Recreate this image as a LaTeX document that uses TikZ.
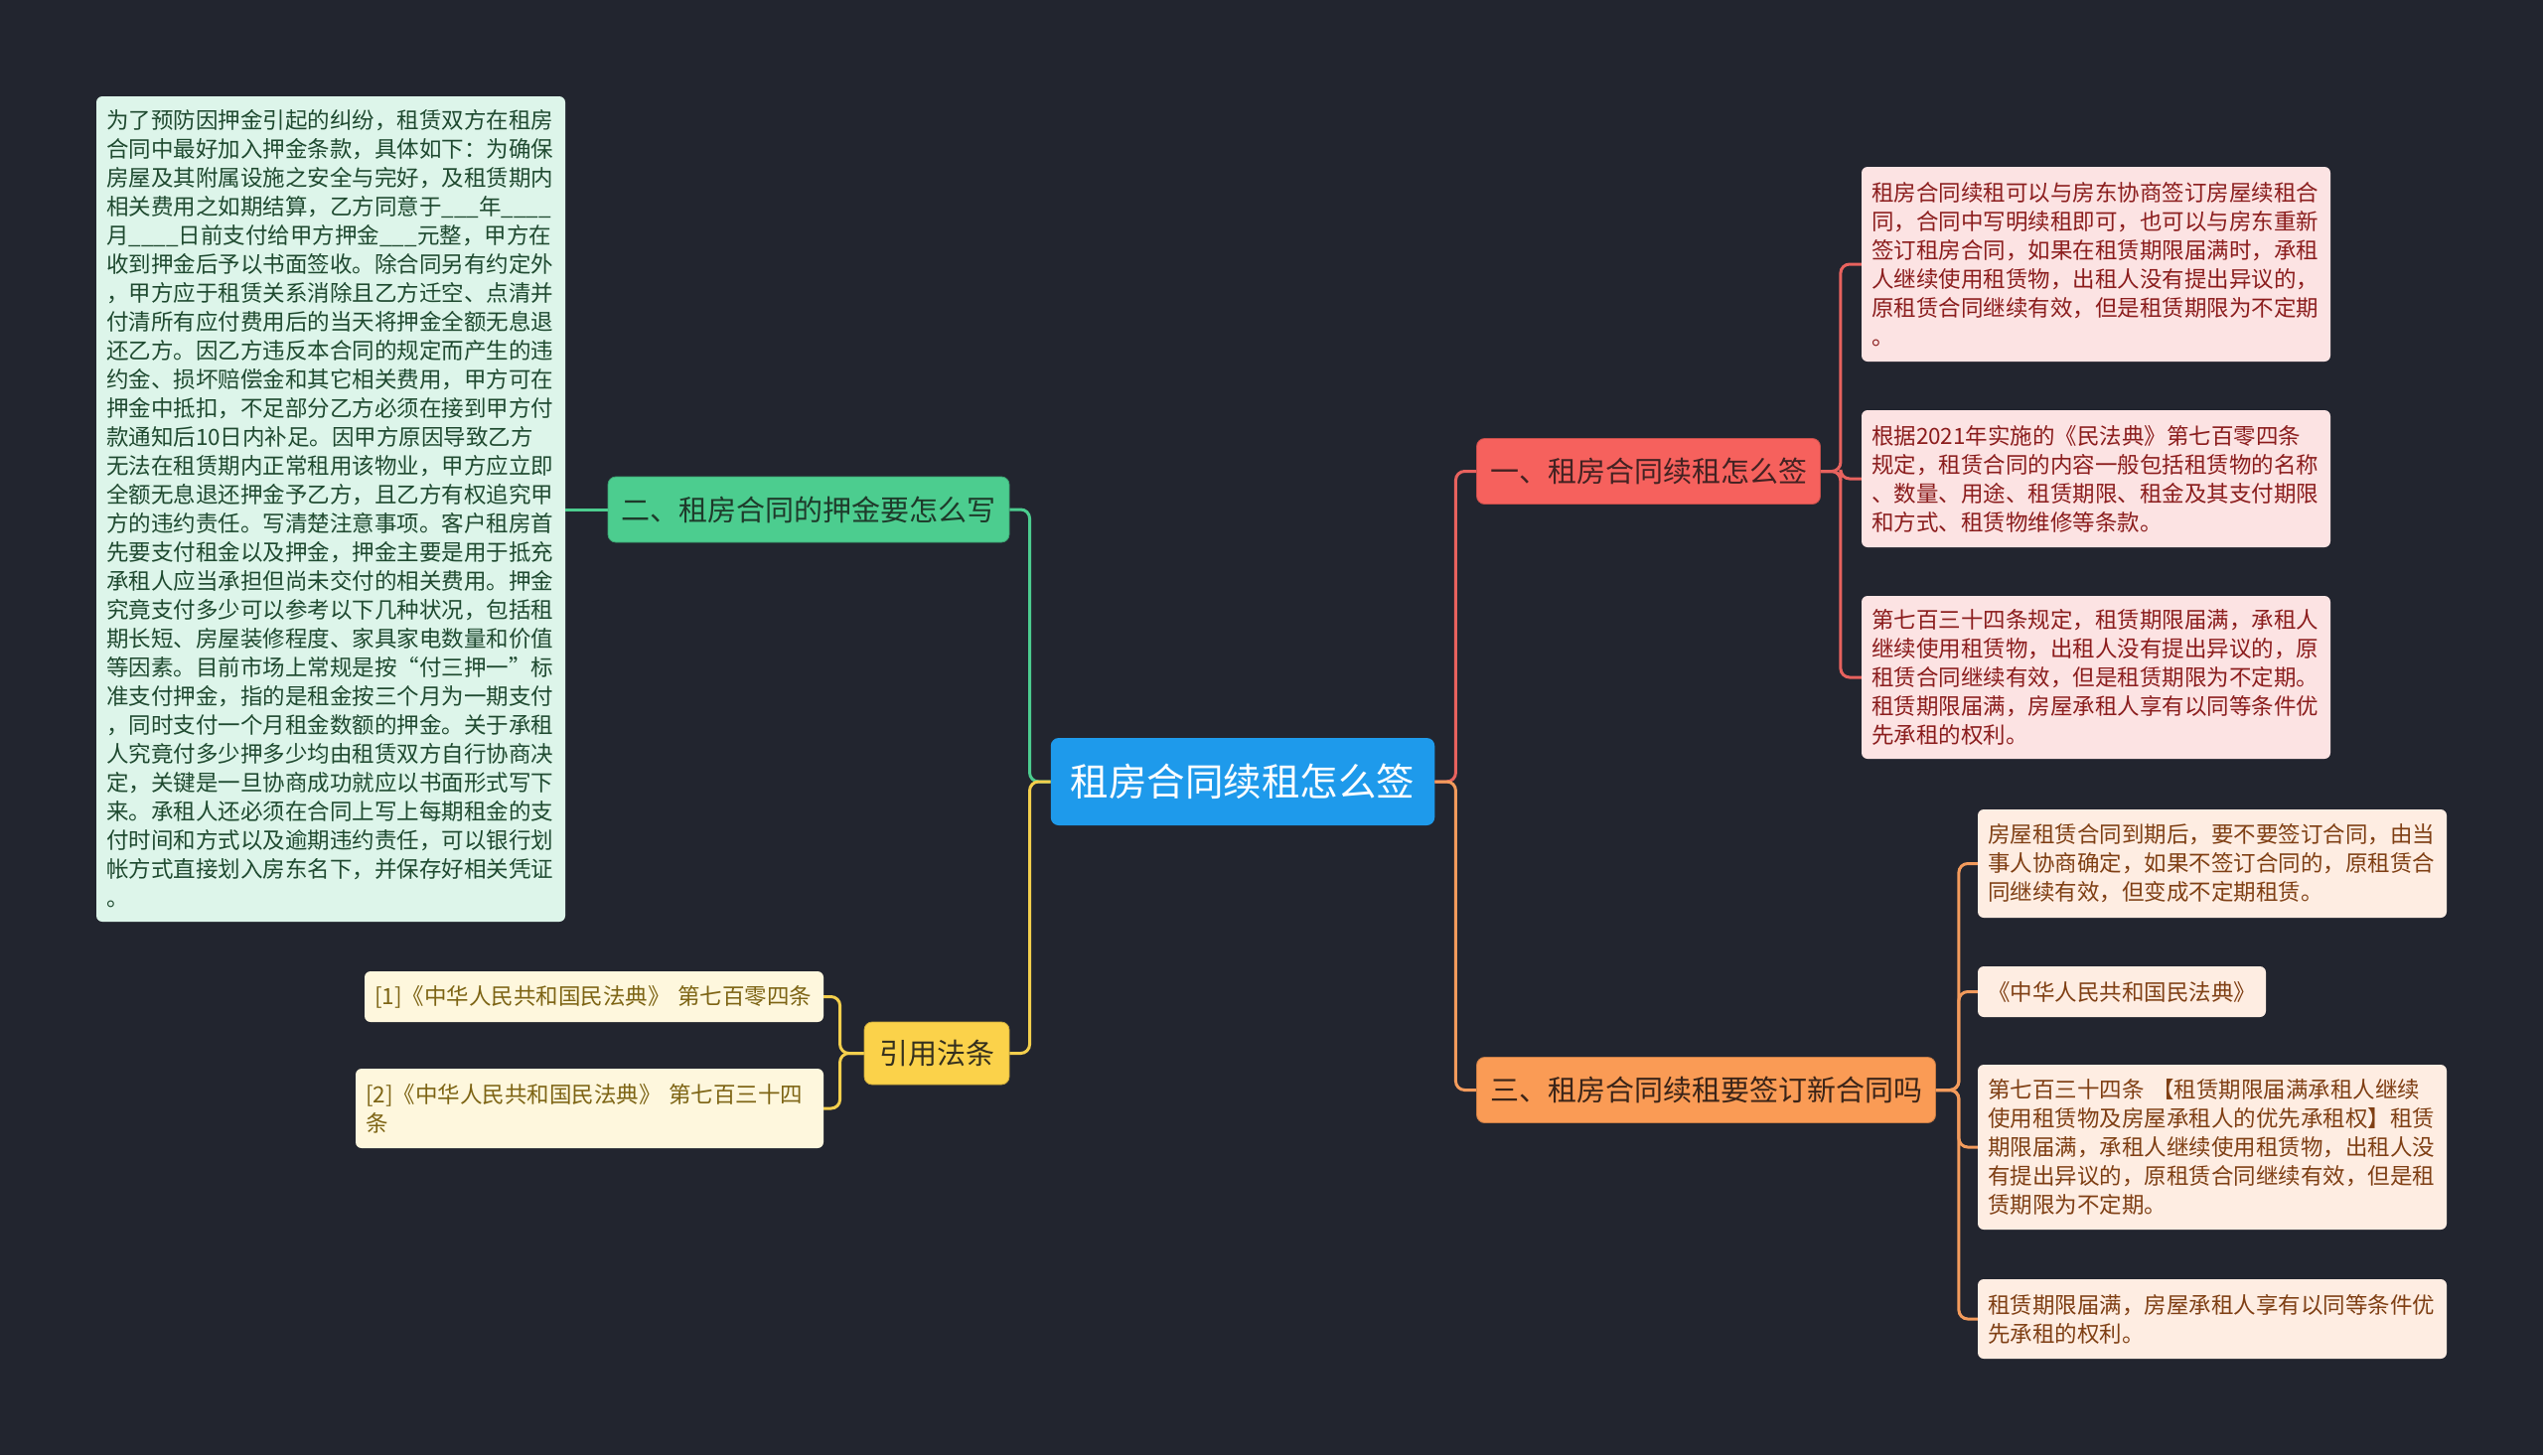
\documentclass[tikz,border=0pt]{standalone}
\usepackage{fontspec}
\setmainfont{Noto Sans CJK SC}
\usepackage{tikz}
\definecolor{bg}{HTML}{22252F}
\definecolor{rootBlue}{HTML}{1E9AEB}
\definecolor{coral}{HTML}{F6615D}
\definecolor{coralLine}{HTML}{E8625E}
\definecolor{coralPale}{HTML}{FCE3E3}
\definecolor{coralInk}{HTML}{8B1D1D}
\definecolor{coralDark}{HTML}{432222}
\definecolor{mint}{HTML}{4CCD8F}
\definecolor{mintPale}{HTML}{DDF5EA}
\definecolor{mintInk}{HTML}{1F4A30}
\definecolor{mintDark}{HTML}{1E3A2A}
\definecolor{amber}{HTML}{FBD24A}
\definecolor{amberLine}{HTML}{F4CF4D}
\definecolor{amberPale}{HTML}{FEF7DD}
\definecolor{amberInk}{HTML}{7D6414}
\definecolor{amberDark}{HTML}{35301E}
\definecolor{peach}{HTML}{FA9B55}
\definecolor{peachLine}{HTML}{F39B5C}
\definecolor{peachPale}{HTML}{FEEDE2}
\definecolor{peachInk}{HTML}{7F3F14}
\definecolor{peachDark}{HTML}{3A2418}

\begin{document}
\begin{tikzpicture}[x=1pt,y=-1pt,
  topic/.style={rounded corners=8pt,inner xsep=13.5pt,inner ysep=0pt,
    minimum height=66pt,font=\fontsize{29}{34}\selectfont},
  leaf/.style={rounded corners=6pt,align=left,inner xsep=10pt,inner ysep=0pt,
    font=\fontsize{22.5}{29}\selectfont},
  link/.style={line width=3pt,rounded corners=9pt}]
  \fill[bg] (0,0) rectangle (2560,1465);
  % centre
  \node[rounded corners=8pt,fill=rootBlue,text=white,inner xsep=20pt,inner ysep=0pt,
    minimum height=88pt,font=\fontsize{38.5}{44}\selectfont] (root) at (1251,787) {租房合同续租怎么签};
  % first level
  \node[topic,fill=coral,draw=coral!80!black,line width=0.8pt,text=coralDark] (n1) at (1659.5,474.5) {一、租房合同续租怎么签};
  \node[topic,fill=mint,draw=mint!80!black,line width=0.8pt,text=mintDark] (n2) at (814,513) {二、租房合同的押金要怎么写};
  \node[topic,fill=peach,draw=peach!80!black,line width=0.8pt,text=peachDark] (n3) at (1717.5,1097.5) {三、租房合同续租要签订新合同吗};
  \node[topic,fill=amber,draw=amber!80!black,line width=0.8pt,text=amberDark,inner xsep=15pt,minimum height=63pt] (n4) at (943,1060.5) {引用法条};
  % leaves
  \node[leaf,fill=coralPale,text=coralInk,text width=452pt,minimum height=196pt] (r1) at (2110,266) {租房合同续租可以与房东协商签订房屋续租合\\
同，合同中写明续租即可，也可以与房东重新\\
签订租房合同，如果在租赁期限届满时，承租\\
人继续使用租赁物，出租人没有提出异议的，\\
原租赁合同继续有效，但是租赁期限为不定期\\
。};
  \node[leaf,fill=coralPale,text=coralInk,text width=452pt,minimum height=138pt] (r2) at (2110,482) {根据2021年实施的《民法典》第七百零四条\\
规定，租赁合同的内容一般包括租赁物的名称\\
、数量、用途、租赁期限、租金及其支付期限\\
和方式、租赁物维修等条款。};
  \node[leaf,fill=coralPale,text=coralInk,text width=452pt,minimum height=164pt] (r3) at (2110,682) {第七百三十四条规定，租赁期限届满，承租人\\
继续使用租赁物，出租人没有提出异议的，原\\
租赁合同继续有效，但是租赁期限为不定期。\\
租赁期限届满，房屋承租人享有以同等条件优\\
先承租的权利。};
  \node[leaf,fill=mintPale,text=mintInk,text width=452pt,minimum height=831pt] (memo) at (333,512.5) {为了预防因押金引起的纠纷，租赁双方在租房\\
合同中最好加入押金条款，具体如下：为确保\\
房屋及其附属设施之安全与完好，及租赁期内\\
相关费用之如期结算，乙方同意于\_\_\_年\_\_\_\_\\
月\_\_\_\_日前支付给甲方押金\_\_\_元整，甲方在\\
收到押金后予以书面签收。除合同另有约定外\\
，甲方应于租赁关系消除且乙方迁空、点清并\\
付清所有应付费用后的当天将押金全额无息退\\
还乙方。因乙方违反本合同的规定而产生的违\\
约金、损坏赔偿金和其它相关费用，甲方可在\\
押金中抵扣，不足部分乙方必须在接到甲方付\\
款通知后10日内补足。因甲方原因导致乙方\\
无法在租赁期内正常租用该物业，甲方应立即\\
全额无息退还押金予乙方，且乙方有权追究甲\\
方的违约责任。写清楚注意事项。客户租房首\\
先要支付租金以及押金，押金主要是用于抵充\\
承租人应当承担但尚未交付的相关费用。押金\\
究竟支付多少可以参考以下几种状况，包括租\\
期长短、房屋装修程度、家具家电数量和价值\\
等因素。目前市场上常规是按“付三押一”标\\
准支付押金，指的是租金按三个月为一期支付\\
，同时支付一个月租金数额的押金。关于承租\\
人究竟付多少押多少均由租赁双方自行协商决\\
定，关键是一旦协商成功就应以书面形式写下\\
来。承租人还必须在合同上写上每期租金的支\\
付时间和方式以及逾期违约责任，可以银行划\\
帐方式直接划入房东名下，并保存好相关凭证\\
。};
  \node[leaf,fill=peachPale,text=peachInk,text width=452pt,minimum height=109pt] (o1) at (2227,869.5) {房屋租赁合同到期后，要不要签订合同，由当\\
事人协商确定，如果不签订合同的，原租赁合\\
同继续有效，但变成不定期租赁。};
  \node[leaf,fill=peachPale,text=peachInk,text width=270pt,minimum height=51pt] (o2) at (2136,998.5) {《中华人民共和国民法典》};
  \node[leaf,fill=peachPale,text=peachInk,text width=452pt,minimum height=166pt] (o3) at (2227,1155) {第七百三十四条 【租赁期限届满承租人继续\\
使用租赁物及房屋承租人的优先承租权】租赁\\
期限届满，承租人继续使用租赁物，出租人没\\
有提出异议的，原租赁合同继续有效，但是租\\
赁期限为不定期。};
  \node[leaf,fill=peachPale,text=peachInk,text width=452pt,minimum height=80pt] (o4) at (2227,1328) {租赁期限届满，房屋承租人享有以同等条件优\\
先承租的权利。};
  \node[leaf,fill=amberPale,text=amberInk,text width=442pt,minimum height=51pt] (ref1) at (598,1003.5) {[1]《中华人民共和国民法典》 第七百零四条};
  \node[leaf,fill=amberPale,text=amberInk,text width=451pt,minimum height=80pt] (ref2) at (593.5,1116) {[2]《中华人民共和国民法典》 第七百三十四\\
条};
  % branches
  \draw[link,coralLine] (root.east) -- ++(21,0) |- (n1.west);
  \draw[link,peachLine] (root.east) -- ++(21,0) |- (n3.west);
  \draw[link,mint] (root.west) -- ++(-21,0) |- (n2.east);
  \draw[link,amberLine] (root.west) -- ++(-21,0) |- (n4.east);
  \foreach \leafname in {r1,r2,r3}
    \draw[link,coralLine] (n1.east) -- ++(20,0) |- (\leafname.west);
  \foreach \leafname in {o1,o2,o3,o4}
    \draw[link,peachLine] (n3.east) -- ++(23,0) |- (\leafname.west);
  \foreach \leafname in {ref1,ref2}
    \draw[link,amberLine] (n4.west) -- ++(-24,0) |- (\leafname.east);
  \draw[link,mint] (n2.west) -- (n2.west -| memo.east);
\end{tikzpicture}
\end{document}
